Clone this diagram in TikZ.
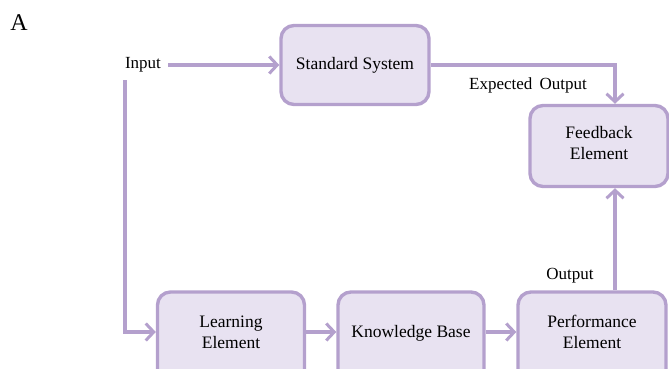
\documentclass[tikz,border=0pt]{standalone}
\usepackage{fontspec}
\setmainfont{Liberation Serif}
\usetikzlibrary{positioning, arrows.meta}
\definecolor{lilacline}{RGB}{180,160,205}
\definecolor{lilacfill}{RGB}{232,226,241}
\tikzset{
	node distance = 1.5cm,
	block/.style = {
		rounded corners = 13pt,
		align = center,
		line width = 3.4pt,
		draw = lilacline,
		fill = lilacfill,
		font = \fontsize{17.5}{21}\selectfont
	},
	link/.style = {
		line width = 3.4pt,
		draw = lilacline,
		-{Straight Barb[length=8pt, width=17pt, line width=3pt]}
	},
	tag/.style = {
		font = \fontsize{17}{20}\selectfont
	}
}

\begin{document}
\begin{tikzpicture}[x=1pt, y=-1pt]
		\useasboundingbox (0,0) rectangle (669,369);
		\clip (0,0) rectangle (669,369);

		\node[font=\fontsize{24}{26}\selectfont] (lbl) at (19,23) {A};

		\node[block, minimum width=148pt, minimum height=79pt] (std) at (355,65) {Standard System};
		\node[block, minimum width=138pt, minimum height=81pt, text depth=6pt] (fb) at (599,146) {Feedback\\Element};
		\node[block, minimum width=147pt, minimum height=90pt, text depth=10pt] (le) at (231,337) {Learning\\Element};
		\node[block, minimum width=146pt, minimum height=90pt, text depth=12pt] (kb) at (411,337) {Knowledge Base};
		\node[block, minimum width=148pt, minimum height=90pt, text depth=10pt] (pe) at (592,337) {Performance\\Element};

		\node[tag] (in)  at (143,65)  {Input};
		\node[tag] (exp) at (528,85)  {Expected\, Output};
		\node[tag] (out) at (570,276) {Output};

		\coordinate (c1) at (125,80);
		\coordinate (c2) at (615,65);

		\draw[link] ([xshift=4pt]in.east) -- (std.west);
		\draw[link] (c1) |- ([yshift=5pt]le.west);
		\draw[link] (std.east) -- (c2) -- (fb.north -| c2);
		\draw[link] ([yshift=5pt]le.east) -- ([yshift=5pt]kb.west);
		\draw[link] ([yshift=5pt]kb.east) -- ([yshift=5pt]pe.west);
		\draw[link] (pe.north -| c2) -- (fb.south -| c2);

	\end{tikzpicture}
\end{document}
